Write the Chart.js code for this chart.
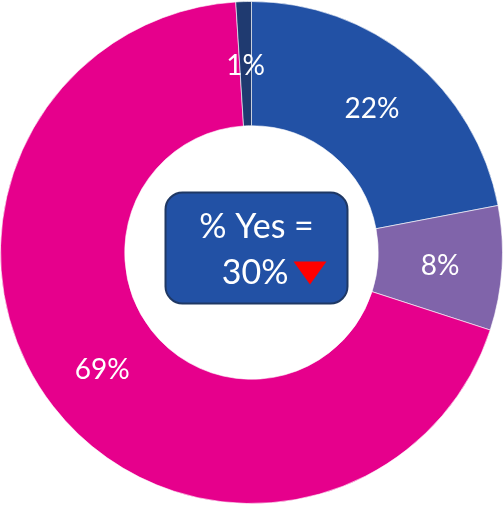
<!DOCTYPE html>
<html>
<head>
<meta charset="utf-8">
<script src="https://cdn.jsdelivr.net/npm/chart.js@4/dist/chart.umd.min.js"></script>
<style>
  html, body { margin: 0; padding: 0; background: #ffffff; }
  #wrap { width: 503px; height: 505px; position: relative; }
</style>
</head>
<body>
<div id="wrap"><canvas id="chart"></canvas></div>
<script>
const categories = ['Yes, often', 'Yes, sometimes', 'No', 'No answer'];
const shares = [22, 8, 69, 1];
const colors = ['#2251a5', '#8064aa', '#e6008c', '#1f3a70'];
const yesShare = shares[0] + shares[1];

const FONT = 'Lato, "Open Sans", sans-serif';

// percentage text in the middle of each ring slice
const sliceLabels = {
    id: 'sliceLabels',
    afterDatasetsDraw(chart) {
        const ctx = chart.ctx;
        const meta = chart.getDatasetMeta(0);
        ctx.save();
        ctx.fillStyle = '#ffffff';
        ctx.font = '28px ' + FONT;
        ctx.textAlign = 'center';
        ctx.textBaseline = 'middle';
        meta.data.forEach((arc, i) => {
            const p = arc.tooltipPosition();
            ctx.fillText(shares[i] + '%', p.x, p.y + 2);
        });
        ctx.restore();
    }
};

// rounded box in the hole with the total "yes" share
const centerBox = {
    id: 'centerBox',
    afterDraw(chart) {
        const ctx = chart.ctx;
        const arc = chart.getDatasetMeta(0).data[0];
        const cx = arc.x, cy = arc.y;
        const x = cx - 86, y = cy - 60, w = 182, h = 111;
        ctx.save();
        ctx.beginPath();
        ctx.roundRect(x, y, w, h, 17);
        ctx.fillStyle = '#2251a5';
        ctx.fill();
        ctx.lineWidth = 2;
        ctx.strokeStyle = '#1f3864';
        ctx.stroke();

        ctx.fillStyle = '#ffffff';
        ctx.font = '34px ' + FONT;
        ctx.textAlign = 'center';
        ctx.textBaseline = 'middle';
        ctx.fillText('% Yes =', cx + 5, cy - 25);
        ctx.textAlign = 'right';
        ctx.fillText(yesShare + '%', cx + 37, cy + 21);

        // red down arrow
        ctx.beginPath();
        ctx.moveTo(cx + 42, cy + 9);
        ctx.lineTo(cx + 75, cy + 9);
        ctx.lineTo(cx + 58.5, cy + 32);
        ctx.closePath();
        ctx.fillStyle = '#ff0000';
        ctx.fill();
        ctx.restore();
    }
};

const ctx = document.getElementById('chart').getContext('2d');
const chart = new Chart(ctx, {
    type: 'doughnut',
    data: {
        labels: categories,
        datasets: [{
            data: shares,
            backgroundColor: colors,
            borderColor: 'rgba(255,255,255,0.6)',
            borderWidth: 1,
            hoverOffset: 0
        }]
    },
    options: {
        responsive: true,
        maintainAspectRatio: false,
        animation: false,
        cutout: '50.5%',
        layout: { padding: 0 },
        plugins: {
            legend: { display: false },
            tooltip: { enabled: false }
        }
    },
    plugins: [sliceLabels, centerBox]
});
</script>
</body>
</html>
